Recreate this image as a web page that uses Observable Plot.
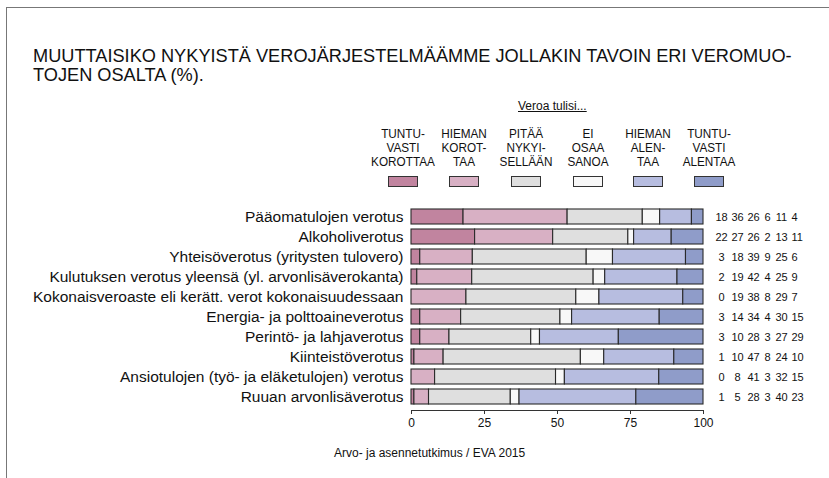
<!DOCTYPE html>
<html><head><meta charset="utf-8">
<script src="https://cdn.jsdelivr.net/npm/d3@7"></script>
<script src="https://cdn.jsdelivr.net/npm/@observablehq/plot@0.6"></script>
<style>
body{margin:0;background:#fff;}
#wrap{position:relative;width:829px;height:478px;overflow:hidden;font-family:"Liberation Sans",Arial,sans-serif;color:#111;}
#chart{position:absolute;left:0;top:0;}
#frame{position:absolute;left:6px;top:7px;right:-4px;bottom:-4px;border-top:1.5px solid #777;border-left:1.5px solid #777;pointer-events:none;}
#title{position:absolute;left:33px;top:47px;font-size:18.2px;line-height:18.8px;white-space:nowrap;}
#veroa{position:absolute;left:518px;top:99px;font-size:12px;text-decoration:underline;white-space:nowrap;}
.lab{position:absolute;width:80px;margin-left:-40px;text-align:center;font-size:13.5px;line-height:13.8px;top:127px;transform:scaleX(0.87);transform-origin:center;}
.sw{position:absolute;width:30px;height:11px;margin-left:-15px;top:176px;box-sizing:border-box;border:1px solid #333;}
#caption{position:absolute;left:334px;top:446px;font-size:12px;white-space:nowrap;}
</style>
</head><body>
<div id="wrap">
  <div id="chart"></div>
  <div id="title">MUUTTAISIKO NYKYISTÄ VEROJÄRJESTELMÄÄMME JOLLAKIN TAVOIN ERI VEROMUO-<br>TOJEN OSALTA (%).</div>
  <div id="veroa">Veroa tulisi...</div>
  <div id="legend"></div>
  <div id="caption">Arvo- ja asennetutkimus / EVA 2015</div>
  <div id="frame"></div>
</div>
<script>
const categories = [
  "Pääomatulojen verotus",
  "Alkoholiverotus",
  "Yhteisöverotus (yritysten tulovero)",
  "Kulutuksen verotus yleensä (yl. arvonlisäverokanta)",
  "Kokonaisveroaste eli kerätt. verot kokonaisuudessaan",
  "Energia- ja polttoaineverotus",
  "Perintö- ja lahjaverotus",
  "Kiinteistöverotus",
  "Ansiotulojen (työ- ja eläketulojen) verotus",
  "Ruuan arvonlisäverotus"
];
const responses = ["Tuntuvasti korottaa", "Hieman korottaa", "Pitää nykyisellään", "Ei osaa sanoa", "Hieman alentaa", "Tuntuvasti alentaa"];
const legendLabels = ["TUNTU-<br>VASTI<br>KOROTTAA", "HIEMAN<br>KOROT-<br>TAA", "PITÄÄ<br>NYKYI-<br>SELLÄÄN", "EI<br>OSAA<br>SANOA", "HIEMAN<br>ALEN-<br>TAA", "TUNTU-<br>VASTI<br>ALENTAA"];
const tuntuvastiKorottaa = [18, 22, 3, 2, 0, 3, 3, 1, 0, 1];
const hiemanKorottaa     = [36, 27, 18, 19, 19, 14, 10, 10, 8, 5];
const pitaaNykyisellaan  = [26, 26, 39, 42, 38, 34, 28, 47, 41, 28];
const eiOsaaSanoa        = [6, 2, 9, 4, 8, 4, 3, 8, 3, 3];
const hiemanAlentaa      = [11, 13, 25, 25, 29, 30, 27, 24, 32, 40];
const tuntuvastiAlentaa  = [4, 11, 6, 9, 7, 15, 29, 10, 15, 23];
const colors = ["#c1849f", "#d8b0c4", "#dfdfdf", "#f8f8f8", "#b7bde0", "#8f9cc9"];
const tickValues = [0, 25, 50, 75, 100];

const series = [tuntuvastiKorottaa, hiemanKorottaa, pitaaNykyisellaan, eiOsaaSanoa, hiemanAlentaa, tuntuvastiAlentaa];
const long = [];
categories.forEach((c, i) => responses.forEach((r, j) => long.push({cat: c, resp: r, value: series[j][i]})));

// legend (HTML, above the SVG)
const legendX = [403, 464, 526, 588, 648, 709];
const leg = document.getElementById("legend");
responses.forEach((r, j) => {
  const l = document.createElement("div");
  l.className = "lab"; l.style.left = legendX[j] + "px"; l.innerHTML = legendLabels[j];
  leg.appendChild(l);
  const s = document.createElement("div");
  s.className = "sw"; s.style.left = legendX[j] + "px"; s.style.background = colors[j];
  leg.appendChild(s);
});

const numDx = [18, 34, 50, 64, 78, 88];
const numAnchor = ["middle", "middle", "middle", "middle", "middle", "start"];

const chart = Plot.plot({
  width: 829,
  height: 440,
  marginLeft: 411,
  marginRight: 126,
  marginTop: 204,
  marginBottom: 30,
  style: {fontFamily: "Liberation Sans, Arial, sans-serif", background: "none", color: "#111", overflow: "visible"},
  x: {domain: [0, 1], axis: null},
  y: {domain: categories, paddingInner: 0.227, paddingOuter: 0.1, axis: null},
  color: {domain: responses, range: colors},
  marks: [
    Plot.barX(long, Plot.stackX({x: "value", y: "cat", fill: "resp", offset: "normalize", stroke: "#2a2a2a", strokeWidth: 1.1})),
    Plot.text(categories, {y: d => d, text: d => d, frameAnchor: "left", textAnchor: "end", dx: -8, fontSize: 15.5, fill: "#111"}),
    ...responses.map((r, j) => Plot.text(long.filter(d => d.resp === r), {
      y: "cat", text: d => String(d.value), frameAnchor: "right", dx: numDx[j], textAnchor: numAnchor[j],
      fontSize: 11, fill: "#111"
    })),
    Plot.frame({anchor: "bottom", stroke: "#333"}),
    Plot.axisX({ticks: tickValues.map(d => d / 100), tickFormat: d => Math.round(d * 100), tickSize: 4, tickPadding: 4, fontSize: 12, stroke: "#333", fill: "#111", label: null})
  ]
});
document.getElementById("chart").appendChild(chart);
</script>
</body></html>
